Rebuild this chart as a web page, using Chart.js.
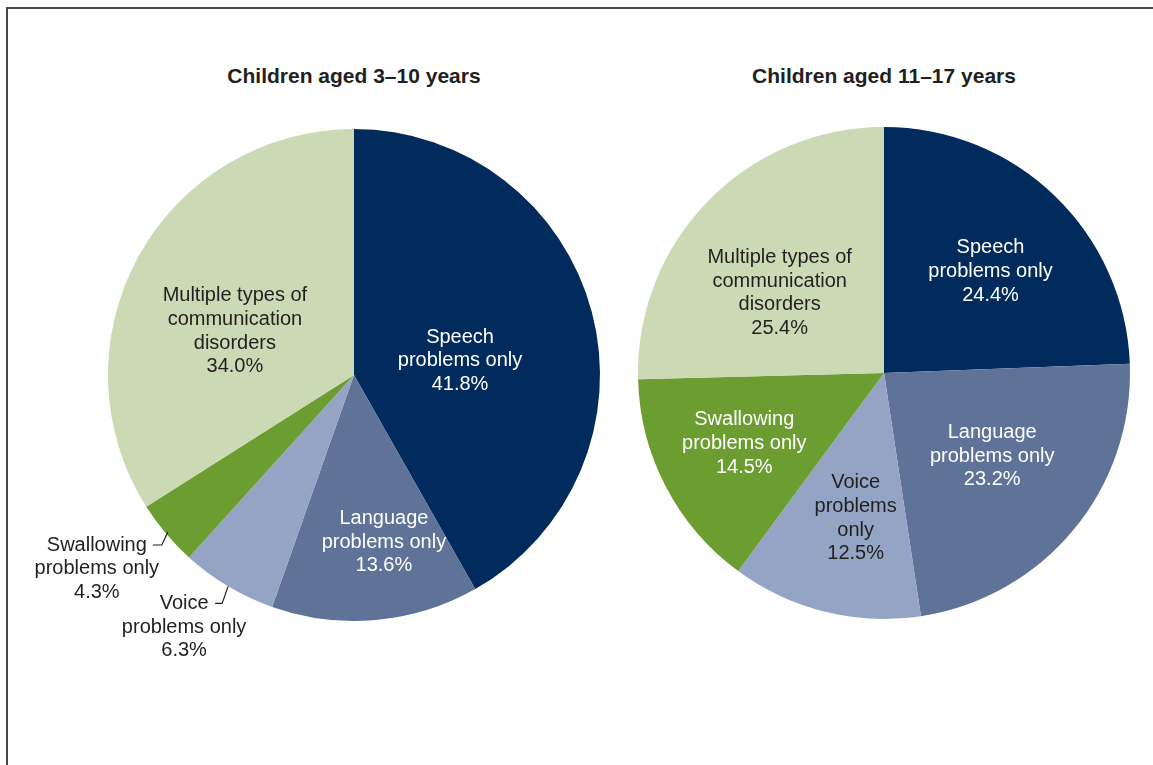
<!DOCTYPE html>
<html>
<head>
<meta charset="utf-8">
<script src="https://cdn.jsdelivr.net/npm/chart.js@4"></script>
<style>
  html, body { margin: 0; padding: 0; background: #fff; }
  body { width: 1153px; height: 765px; position: relative; overflow: hidden; font-family: "Liberation Sans", Arial, sans-serif; }
  .frame { position: absolute; left: 6px; top: 7px; width: 1200px; height: 800px; border-left: 2px solid #4a4a4a; border-top: 2px solid #4a4a4a; }
  .title { position: absolute; width: 400px; text-align: center; font-weight: bold; font-size: 21px; color: #231f20; top: 64px; }
  canvas { position: absolute; }
</style>
</head>
<body>
<div class="frame"></div>
<div class="title" id="title1" style="left:154px">Children aged 3–10 years</div>
<div class="title" id="title2" style="left:684px">Children aged 11–17 years</div>
<div id="wrap2" style="position:absolute;left:600px;top:0px;width:568px;height:746px"><canvas id="pie2"></canvas></div>
<div id="wrap1" style="position:absolute;left:0px;top:0px;width:708px;height:750px"><canvas id="pie1"></canvas></div>
<script>
// categories, clockwise from 12 o'clock
const categories = [
  ["Speech", "problems only"],
  ["Language", "problems only"],
  ["Voice", "problems only"],
  ["Swallowing", "problems only"],
  ["Multiple types of", "communication", "disorders"],
];
const young = [41.8, 13.6, 6.3, 4.3, 34.0];
const older = [24.4, 23.2, 12.5, 14.5, 25.4];

const colors = ["#002b5c", "#5f7399", "#94a4c4", "#6b9d31", "#cbd9b4"];
const textColors = ["#ffffff", "#ffffff", "#231f20", "#ffffff", "#231f20"];
const darkText = "#231f20";
const lineH = 23.7;

// label placement: distance along mid angle (fraction of radius) + small nudge
const youngPlace = [
  { f: 0.45, dx: -1, dy: 14 },
  { f: 0.69, dx: 15, dy: -2 },
  { out: true, edge: 1.0, elbow: [-6, 17], tail: -7, textDx: -31 },
  { out: true, edge: 0.99, elbow: [-6, 13], tail: -9, textDx: -56 },
  { f: 0.52, dx: -7, dy: 18 },
];
const olderPlace = [
  { f: 0.595, dx: 5, dy: 4 },
  { f: 0.555, dx: 3, dy: -4 },
  { f: 0.6, dx: 7, dy: 2, lines: ["Voice", "problems", "only"] },
  { f: 0.636, dx: -1, dy: -2 },
  { f: 0.53, dx: -11, dy: 11 },
];

const labelPlugin = {
  id: "sliceLabels",
  afterDatasetsDraw(chart, args, opts) {
    const ctx = chart.ctx;
    const meta = chart.getDatasetMeta(0);
    const values = chart.data.datasets[0].data;
    ctx.save();
    ctx.font = "20px 'Liberation Sans', Arial, sans-serif";
    ctx.textAlign = "center";
    ctx.textBaseline = "middle";
    meta.data.forEach((arc, i) => {
      const p = opts.place[i];
      const mid = (arc.startAngle + arc.endAngle) / 2;
      const r = arc.outerRadius;
      const lines = (p.lines || categories[i]).concat([values[i].toFixed(1) + "%"]);
      if (p.out) {
        const ex = arc.x + Math.cos(mid) * r * p.edge;
        const ey = arc.y + Math.sin(mid) * r * p.edge;
        const bx = ex + p.elbow[0], by = ey + p.elbow[1];
        const tx = bx + p.tail;
        ctx.strokeStyle = darkText;
        ctx.lineWidth = 1.2;
        ctx.beginPath();
        ctx.moveTo(ex, ey);
        ctx.lineTo(bx, by);
        ctx.lineTo(tx, by);
        ctx.stroke();
        ctx.fillStyle = darkText;
        lines.forEach((t, k) => ctx.fillText(t, tx + p.textDx, by + k * lineH));
      } else {
        const cx = arc.x + Math.cos(mid) * r * p.f + p.dx;
        const cy = arc.y + Math.sin(mid) * r * p.f + p.dy;
        const top = cy - (lines.length - 1) * lineH / 2;
        ctx.fillStyle = textColors[i];
        lines.forEach((t, k) => ctx.fillText(t, cx, top + k * lineH));
      }
    });
    ctx.restore();
  },
};

function makePie(id, values, place) {
  return new Chart(document.getElementById(id), {
    type: "pie",
    data: {
      labels: categories.map((c) => c.join(" ")),
      datasets: [{ data: values, backgroundColor: colors, borderWidth: 0, hoverOffset: 0 }],
    },
    options: {
      responsive: true,
      maintainAspectRatio: false,
      animation: false,
      radius: 246,
      layout: { padding: 0 },
      events: [],
      plugins: {
        legend: { display: false },
        tooltip: { enabled: false },
        sliceLabels: { place },
      },
    },
    plugins: [labelPlugin],
  });
}

makePie("pie1", young, youngPlace);
makePie("pie2", older, olderPlace);
</script>
</body>
</html>
